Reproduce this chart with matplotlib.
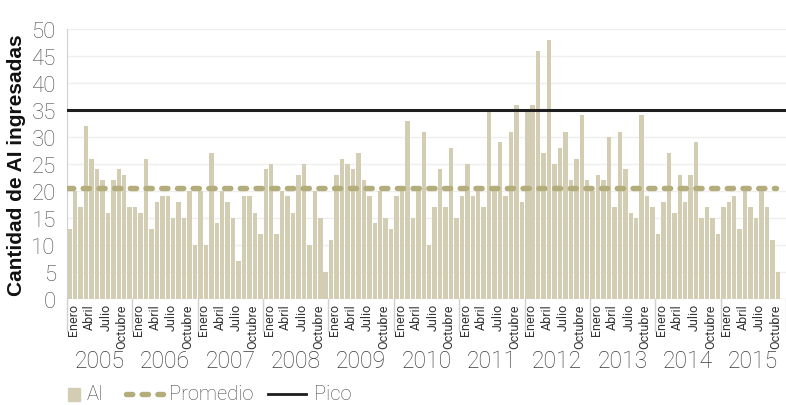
import matplotlib
matplotlib.use("Agg")
import matplotlib.pyplot as plt
from matplotlib import font_manager
from matplotlib.lines import Line2D
from matplotlib.patches import Rectangle
import matplotlib.transforms as mtransforms
import numpy as np

years = ["2005", "2006", "2007", "2008", "2009", "2010",
         "2011", "2012", "2013", "2014", "2015"]
month_labels = ["Enero", "Abril", "Julio", "Octubre"]
month_label_idx = [0, 3, 6, 9]

ai_2005 = [13, 20, 17, 32, 26, 24, 22, 16, 22, 24, 23, 17]
ai_2006 = [17, 16, 26, 13, 18, 19, 19, 15, 18, 15, 20, 10]
ai_2007 = [20, 10, 27, 14, 20, 18, 15, 7, 19, 19, 16, 12]
ai_2008 = [24, 25, 12, 20, 19, 16, 23, 25, 10, 20, 15, 5]
ai_2009 = [11, 23, 26, 25, 24, 27, 22, 19, 14, 20, 15, 13]
ai_2010 = [19, 21, 33, 15, 21, 31, 10, 17, 24, 17, 28, 15]
ai_2011 = [19, 25, 19, 20, 17, 35, 20, 29, 19, 31, 36, 18]
ai_2012 = [35, 36, 46, 27, 48, 25, 28, 31, 22, 26, 34, 22]
ai_2013 = [20, 23, 22, 30, 17, 31, 24, 16, 15, 34, 19, 17]
ai_2014 = [12, 18, 27, 16, 23, 18, 23, 29, 15, 17, 15, 12]
ai_2015 = [17, 18, 19, 13, 21, 17, 15, 20, 17, 11, 5]

promedio = 20.5
pico = 35
legend_labels = ["AI", "Promedio", "Pico"]

ai = (ai_2005 + ai_2006 + ai_2007 + ai_2008 + ai_2009 + ai_2010 +
      ai_2011 + ai_2012 + ai_2013 + ai_2014 + ai_2015)

names = {f.name for f in font_manager.fontManager.ttflist}
light = "Roboto" if "Roboto" in names else "DejaVu Sans"
plt.rcParams["font.family"] = [light, "DejaVu Sans"]
LW = "light"

BAR = "#d3cdb3"
AVG = "#b3ac7b"
PEAK = "#1e1e1e"
TXT = "#4a4a4a"

fig = plt.figure(figsize=(7.86, 4.06), dpi=100)
ax = fig.add_axes([67 / 786, 1 - 300 / 406, 1 - 67 / 786, 270 / 406])

x = np.arange(len(ai))
ax.bar(x, ai, width=0.82, color=BAR, zorder=2)
n_slots = len(years) * 12
ax.set_xlim(-0.5, n_slots - 0.5)
ax.set_ylim(0, 50)

ax.plot([-0.5, x[-1] - 0.3], [promedio, promedio], color=AVG, lw=3.9,
        dashes=(1.15, 1.75), dash_capstyle="round", zorder=3)
ax.axhline(pico, color=PEAK, lw=2.2, zorder=3)

ax.set_yticks(range(0, 51, 5))
ax.yaxis.grid(True, color="#efefef", lw=1, zorder=0)
ax.set_axisbelow(True)
for s in ["top", "right", "bottom"]:
    ax.spines[s].set_visible(False)
ax.spines["left"].set_color("#d0d0d0")
ax.tick_params(axis="y", length=0, pad=8, labelsize=16, labelcolor=TXT)
for lab in ax.get_yticklabels():
    lab.set_fontweight(LW)

# month ticks
ticks = [12 * k + m for k in range(len(years)) for m in month_label_idx]
labels = [month_labels[j] for k in range(len(years)) for j in range(4)]
ax.set_xticks(ticks)
ax.set_xticklabels(labels, rotation=90, fontsize=9, color="#333333",
                   va="top", ha="center")
ax.tick_params(axis="x", length=0, pad=3)
off = mtransforms.ScaledTranslation(3.5 / 100, 0, fig.dpi_scale_trans)
for lab in ax.get_xticklabels():
    lab.set_transform(lab.get_transform() + off)

trans = mtransforms.blended_transform_factory(ax.transData, ax.transAxes)
for k in range(len(years) + 1):
    ax.add_line(Line2D([12 * k - 0.5, 12 * k - 0.5], [0, -32 / 270],
                       transform=trans, color="#d0d0d0", lw=1, clip_on=False))
for k, yr in enumerate(years):
    ax.text(12 * k + 5.5, -62 / 270, yr, transform=trans, ha="center",
            va="center", fontsize=16.5, color="#3a3a3a", fontweight=LW)

ax.set_ylabel("Cantidad de AI ingresadas", fontsize=15, fontweight="bold",
              family=["Liberation Sans", "DejaVu Sans"], color="#111111",
              labelpad=4)

# legend drawn manually in pixel coords
W, H = 786, 406
def fx(px):
    return px / W
def fy(py):
    return 1 - py / H

fig.add_artist(Rectangle((fx(68), fy(402)), 12 / W, 13 / H, color=BAR,
                         transform=fig.transFigure))
fig.text(fx(87), fy(395), legend_labels[0], ha="left", va="center",
         fontsize=14.5, color=TXT, fontweight=LW)
fig.add_artist(Line2D([fx(126), fx(163)], [fy(395), fy(395)], color=AVG,
                      lw=3.9, dashes=(1.15, 1.75), dash_capstyle="round",
                      transform=fig.transFigure))
fig.text(fx(169), fy(395), legend_labels[1], ha="left", va="center",
         fontsize=14.5, color=TXT, fontweight=LW)
fig.add_artist(Line2D([fx(268), fx(306)], [fy(395), fy(395)], color=PEAK,
                      lw=2, transform=fig.transFigure))
fig.text(fx(314), fy(395), legend_labels[2], ha="left", va="center",
         fontsize=14.5, color=TXT, fontweight=LW)

fig.savefig("out.png", dpi=100)
